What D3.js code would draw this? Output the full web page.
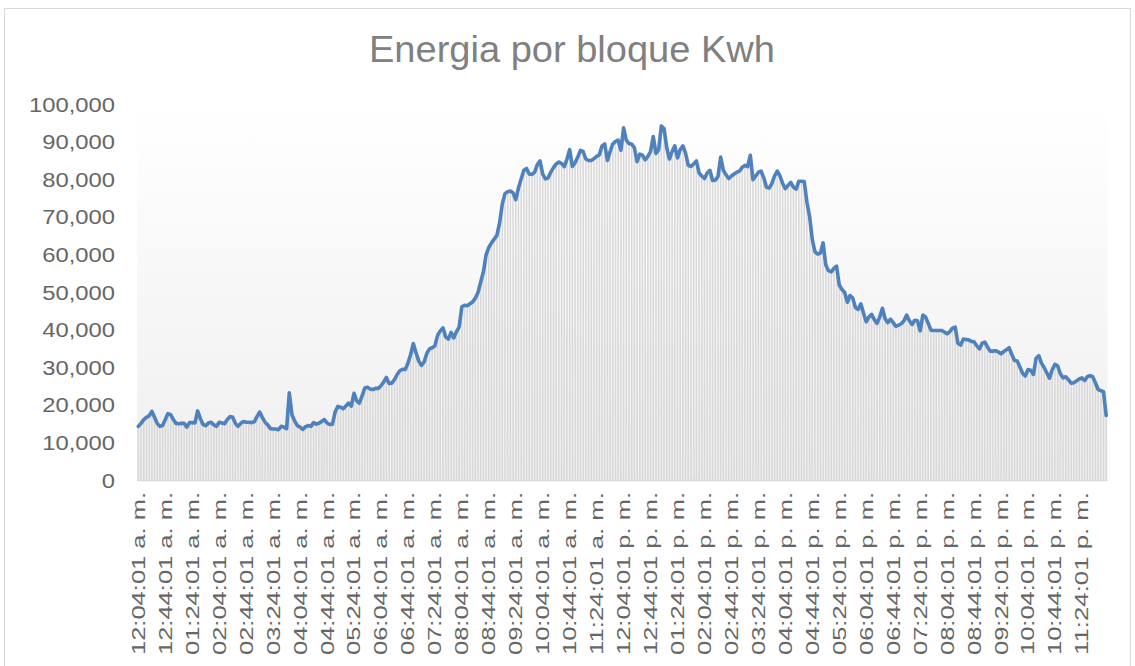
<!DOCTYPE html>
<html>
<head>
<meta charset="utf-8">
<script src="https://cdn.jsdelivr.net/npm/d3@7"></script>
<style>
html, body { margin: 0; padding: 0; background: #fff; }
svg { display: block; font-family: "Liberation Sans", Arial, sans-serif; }
</style>
</head>
<body>
<svg id="chart" width="1135" height="666"></svg>
<script>
// energia por bloque de 4 minutos, kWh
var energia = [
  14400, 15200, 16200, 16800, 17200, 18400, 16800, 15200, 14400, 14600,
  16200, 17800, 17500, 16200, 15200, 15100, 15200, 15200, 14200, 15400,
  15400, 15300, 18500, 16500, 14900, 14600, 15300, 15500, 14800, 14400,
  15500, 15300, 15100, 16200, 17000, 16800, 15200, 14400, 15200, 15700,
  15500, 15500, 15400, 15600, 17000, 18200, 16800, 15500, 14800, 13800,
  13700, 13700, 13500, 14400, 14200, 13800, 23300, 17500, 15800, 14600,
  14200, 13600, 14300, 14600, 14400, 15400, 15000, 15200, 15700, 16200,
  15300, 14900, 15000, 18200, 19700, 19500, 19100, 19800, 20600, 19800,
  23200, 21200, 20600, 22500, 24600, 24800, 24300, 24200, 24500, 24500,
  25200, 26200, 27400, 25800, 25900, 26800, 28200, 29200, 29600, 29500,
  31200, 33500, 36400, 34000, 31800, 30600, 31500, 33800, 35000, 35300,
  35800, 38600, 39800, 40600, 38200, 37600, 39400, 37900, 39600, 40800,
  46200, 46600, 46500, 47000, 47500, 48500, 50000, 52800, 55500, 60000,
  62000, 63200, 64200, 65200, 68500, 73500, 76300, 76800, 77000, 76500,
  74700, 77800, 80200, 82500, 83000, 81500, 81400, 82000, 84000, 85000,
  81500, 80200, 80500, 82000, 83200, 84200, 84700, 84300, 83500, 85500,
  88000, 83500, 84500, 86000, 87800, 87500, 85500, 85100, 85100, 85600,
  86200, 86600, 89000, 89500, 85100, 87500, 89500, 90200, 90500, 87800,
  93800, 90500, 89600, 89500, 88500, 84800, 86800, 86500, 85300, 86200,
  87500, 91500, 87000, 88000, 94300, 93600, 88500, 85500, 87500, 89000,
  85800, 88000, 89000, 87000, 83800, 83500, 84200, 85000, 81800, 81000,
  80300, 81800, 82500, 79800, 79900, 80800, 86000, 82500, 81300, 80300,
  81000, 81500, 82000, 82300, 83300, 83800, 83500, 86500, 80000, 81000,
  82000, 82300, 80500, 78000, 77800, 79000, 81000, 82300, 81000, 79000,
  77600, 78500, 79300, 78000, 77500, 79600, 79600, 79500, 74000, 70200,
  64000, 60800, 60200, 60500, 63200, 57300, 55800, 55500, 56400, 57000,
  52000, 50800, 50000, 47400, 49200, 48500, 46000, 45500, 47000, 44500,
  42200, 43500, 44200, 42800, 41800, 43500, 45800, 43000, 42000, 42900,
  42000, 41000, 41300, 41700, 42500, 44000, 42500, 41500, 42600, 42500,
  39800, 44000, 43500, 41800, 40000, 39900, 39900, 39900, 39900, 39500,
  39000, 39600, 40500, 40800, 36500, 36000, 37600, 37500, 37400, 37000,
  36900, 35800, 35000, 36500, 36800, 35500, 34400, 34400, 34500, 34200,
  33700, 34300, 34800, 35300, 33500, 31900, 31800, 30200, 28500, 27800,
  29500, 29300, 28200, 32500, 33200, 31200, 30000, 28600, 27200, 29500,
  30900, 30500, 28400, 27300, 27600, 26800, 25900, 26000, 26500, 27000,
  27300, 26600, 27600, 27900, 27600, 26000, 24200, 23900, 23600, 17300
];

// etiquetas del eje x (una cada 10 bloques)
var tickLabels = [
  "12:04:01 a. m.", "12:44:01 a. m.", "01:24:01 a. m.", "02:04:01 a. m.", "02:44:01 a. m.", "03:24:01 a. m.",
  "04:04:01 a. m.", "04:44:01 a. m.", "05:24:01 a. m.", "06:04:01 a. m.", "06:44:01 a. m.", "07:24:01 a. m.",
  "08:04:01 a. m.", "08:44:01 a. m.", "09:24:01 a. m.", "10:04:01 a. m.", "10:44:01 a. m.", "11:24:01 a. m.",
  "12:04:01 p. m.", "12:44:01 p. m.", "01:24:01 p. m.", "02:04:01 p. m.", "02:44:01 p. m.", "03:24:01 p. m.",
  "04:04:01 p. m.", "04:44:01 p. m.", "05:24:01 p. m.", "06:04:01 p. m.", "06:44:01 p. m.", "07:24:01 p. m.",
  "08:04:01 p. m.", "08:44:01 p. m.", "09:24:01 p. m.", "10:04:01 p. m.", "10:44:01 p. m.", "11:24:01 p. m."
];
var tickEvery = 10;
var yTicks = [0, 10000, 20000, 30000, 40000, 50000, 60000, 70000, 80000, 90000, 100000];

var svg = d3.select('#chart');
var plot = { left: 137, right: 1107.5, top: 104.5, bottom: 480.5 };

var idx = d3.range(energia.length);
var x = d3.scaleBand().domain(idx).range([plot.left, plot.right]).paddingInner(0.42).paddingOuter(0.2);
var xc = function(i){ return x(i) + x.bandwidth() / 2; };
var y = d3.scaleLinear().domain([0, 100000]).range([plot.bottom, plot.top]);

// borde del grafico
svg.append('rect').attr('x', 4.5).attr('y', 8.5).attr('width', 1126).attr('height', 680)
  .attr('fill', '#fff').attr('stroke', '#d9d9d9').attr('stroke-width', 1);

var defs = svg.append('defs');
var grad = defs.append('linearGradient').attr('id', 'bg').attr('x1', 0).attr('y1', 0).attr('x2', 0).attr('y2', 1);
grad.append('stop').attr('offset', '0%').attr('stop-color', '#ffffff');
grad.append('stop').attr('offset', '100%').attr('stop-color', '#efefef');

svg.append('rect').attr('x', plot.left).attr('y', plot.top)
  .attr('width', plot.right - plot.left).attr('height', plot.bottom - plot.top)
  .attr('fill', 'url(#bg)');

svg.append('text').attr('x', 572).attr('y', 62).attr('text-anchor', 'middle')
  .attr('font-size', 36).attr('fill', '#808080')
  .attr('textLength', 406).attr('lengthAdjust', 'spacingAndGlyphs')
  .text('Energia por bloque Kwh');

// barras rayadas
svg.append('g').selectAll('rect').data(idx).join('rect')
  .attr('x', function(i){ return x(i); })
  .attr('y', function(i){ return y(energia[i]); })
  .attr('width', x.bandwidth())
  .attr('height', function(i){ return y(0) - y(energia[i]); })
  .attr('fill', '#d9d9d9');

// eje x
svg.append('line').attr('x1', plot.left).attr('x2', plot.right)
  .attr('y1', plot.bottom).attr('y2', plot.bottom)
  .attr('stroke', '#d9d9d9').attr('stroke-width', 1.5);

var line = d3.line().x(function(d, i){ return xc(i); }).y(function(d){ return y(d); });
svg.append('path').datum(energia).attr('d', line)
  .attr('fill', 'none').attr('stroke', '#4f81bd').attr('stroke-width', 3.6)
  .attr('stroke-linejoin', 'round').attr('stroke-linecap', 'round');

// eje y
var fmt = d3.format(',');
svg.append('g').selectAll('text').data(yTicks).join('text')
  .attr('transform', function(d){ return 'translate(115,' + (y(d) + 7) + ') scale(1.22,1)'; })
  .attr('text-anchor', 'end').attr('font-size', 19.5).attr('fill', '#666666')
  .text(function(d){ return fmt(d); });

// etiquetas x rotadas
svg.append('g').selectAll('text').data(tickLabels).join('text')
  .attr('transform', function(d, k){ return 'translate(' + (xc(k * tickEvery) + 6.5) + ',492) rotate(-90)'; })
  .attr('text-anchor', 'end').attr('font-size', 18.5).attr('fill', '#666666')
  .attr('textLength', 163).attr('lengthAdjust', 'spacingAndGlyphs')
  .text(function(d){ return d; });
</script>
</body>
</html>
